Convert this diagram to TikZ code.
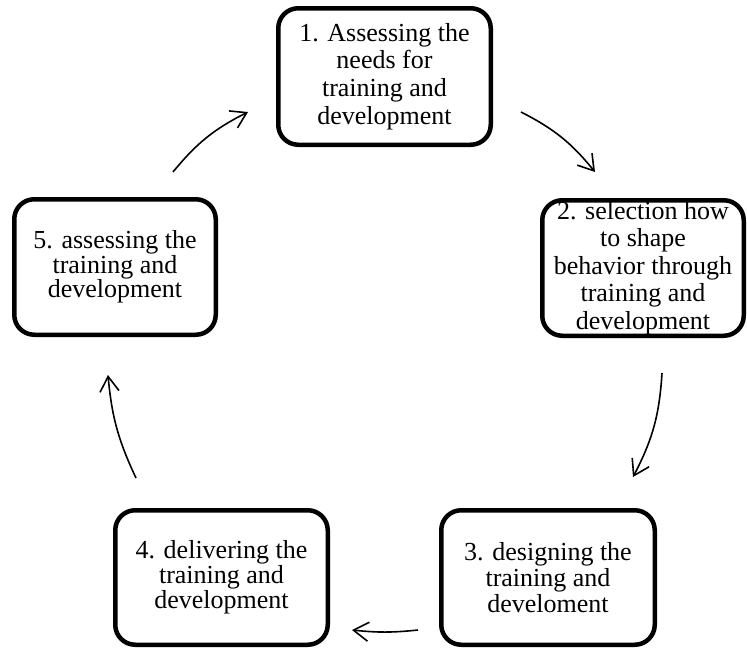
\documentclass[tikz,border=0pt]{standalone}
\usepackage{fontspec}
\setmainfont{Liberation Serif}
\usetikzlibrary{arrows.meta}
\begin{document}
\begin{tikzpicture}[x=1pt,y=-1pt,
  box/.style={draw, line width=4.5pt, rounded corners=20pt, align=center, inner sep=0pt},
  arr/.style={line width=1.6pt, -{Straight Barb[length=15pt,width=19pt,line width=1.6pt]}}]
\useasboundingbox (0,0) rectangle (747,648);
\node[box, minimum width=212.5pt, minimum height=136.5pt, font=\fontsize{26}{27.7}\selectfont] (b1) at (384.5,76.5) {1. Assessing the\\needs for\\training and\\development};
\node[box, minimum width=201.5pt, minimum height=135.5pt, font=\fontsize{26}{27.5}\selectfont] (b2) at (643,268) {2. selection how\\to shape\\behavior through\\training and\\development};
\node[box, minimum width=213.5pt, minimum height=134.5pt, font=\fontsize{26}{26}\selectfont] (b3) at (548,577.5) {3. designing the\\training and\\develoment};
\node[box, minimum width=212.5pt, minimum height=134.5pt, font=\fontsize{26}{25}\selectfont] (b4) at (221.5,577.5) {4. delivering the\\training and\\development};
\node[box, minimum width=201.5pt, minimum height=135.5pt, font=\fontsize{26}{23}\selectfont] (b5) at (115,267) {5. assessing the\\training and\\development};
\coordinate (a51s) at (173,172);
\coordinate (a51e) at (248,112);
\coordinate (a12s) at (521,112);
\coordinate (a12e) at (595,172);
\coordinate (a23s) at (662,373);
\coordinate (a23e) at (633,477);
\coordinate (a34s) at (418,630);
\coordinate (a34e) at (352,630);
\coordinate (a45s) at (136,478);
\coordinate (a45e) at (108,375);
\draw[arr] (a51s) to[bend left=12] (a51e);
\draw[arr] (a12s) to[bend left=12] (a12e);
\draw[arr] (a23s) to[bend left=12] (a23e);
\draw[arr] (a34s) to[bend left=6] (a34e);
\draw[arr] (a45s) to[bend left=10] (a45e);
\end{tikzpicture}
\end{document}
